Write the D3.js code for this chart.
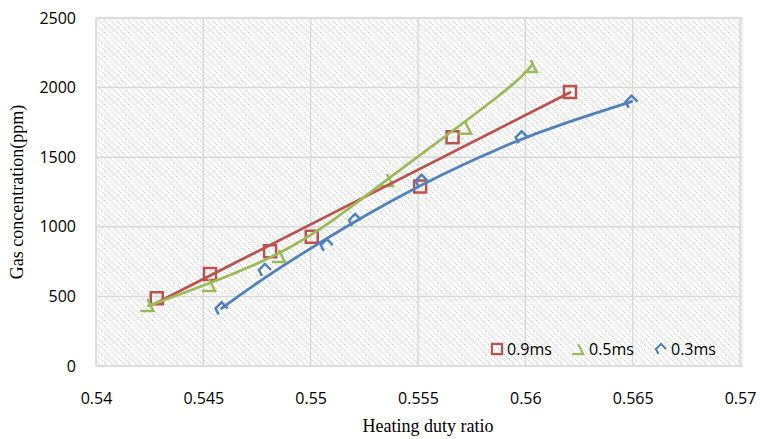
<!DOCTYPE html>
<html><head><meta charset="utf-8">
<script src="https://cdn.jsdelivr.net/npm/d3@7"></script>
<style>body{margin:0;background:#fff}svg{display:block}</style>
</head><body>
<svg id="c" width="760" height="439"></svg>
<script>
// ---- data ----
const seriesNames = ["0.9ms", "0.5ms", "0.3ms"];
const red_x = [0.54283, 0.54531, 0.54811, 0.55005, 0.55510, 0.55661, 0.56208];
const red_y = [486, 661, 825, 929, 1290, 1643, 1968];
const green_x = [0.54244, 0.54531, 0.54857, 0.55360, 0.55724, 0.56030];
const green_y = [438, 582, 790, 1336, 1712, 2155];
const blue_x = [0.54585, 0.54787, 0.55075, 0.55207, 0.55517, 0.55983, 0.56495];
const blue_y = [414, 690, 869, 1049, 1330, 1643, 1899];
// trendlines
const redTrend_x = [0.54283, 0.56208];
const redTrend_y = [455, 1965];
const greenTrend_x = [0.54244, 0.54857, 0.55323, 0.55851, 0.56030];
const greenTrend_y = [432, 815, 1300, 1911, 2160];
const blueTrend_x = [0.54585, 0.54857, 0.55385, 0.55882, 0.56200, 0.56495];
const blueTrend_y = [414, 705, 1193, 1565, 1752, 1900];
const xTicks = [0.54, 0.545, 0.55, 0.555, 0.56, 0.565, 0.57];
const yTicks = [0, 500, 1000, 1500, 2000, 2500];
const colors = ["#C0504D", "#9BBB59", "#4F81BD"];

const svg = d3.select("#c");
const L = 96, R = 740, T = 18, B = 366;
const x = d3.scaleLinear().domain([0.54, 0.57]).range([L, R]);
const y = d3.scaleLinear().domain([0, 2500]).range([B, T]);

// hatch pattern
const defs = svg.append("defs");
const pat = defs.append("pattern").attr("id", "hatch").attr("patternUnits", "userSpaceOnUse")
  .attr("width", 6).attr("height", 6);
pat.append("path").attr("d", "M0,0 L6,6 M-3,3 L3,9 M3,-3 L9,3")
  .attr("stroke", "#d2d2d2").attr("stroke-width", 1.1).attr("stroke-dasharray", "1.5,1");

svg.append("rect").attr("x", L).attr("y", T).attr("width", R - L + 2).attr("height", B - T)
  .attr("fill", "url(#hatch)").attr("stroke", "#e0e0e0").attr("stroke-width", 1);

// gridlines
svg.append("g").selectAll("line").data(yTicks).join("line")
  .attr("x1", L).attr("x2", R + 2).attr("y1", d => y(d)).attr("y2", d => y(d))
  .attr("stroke", "#d9d9d9").attr("stroke-width", 1.5);
svg.append("g").selectAll("line").data(xTicks).join("line")
  .attr("y1", T).attr("y2", B).attr("x1", d => x(d)).attr("x2", d => x(d))
  .attr("stroke", "#d9d9d9").attr("stroke-width", 1.5);

// axes (labels only)
const xAxis = svg.append("g").attr("transform", `translate(0,${B})`)
  .call(d3.axisBottom(x).tickValues(xTicks).tickFormat(d => String(+d.toFixed(3))).tickSize(0).tickPadding(27));
const yAxis = svg.append("g").attr("transform", `translate(${L},0)`)
  .call(d3.axisLeft(y).tickValues(yTicks).tickFormat(d3.format("d")).tickSize(0).tickPadding(20));
[xAxis, yAxis].forEach(a => {
  a.select(".domain").remove();
  a.selectAll("text").attr("font-family", "'Open Sans', sans-serif").attr("font-size", 16).attr("fill", "#000");
});

// titles
svg.append("text").attr("x", 428).attr("y", 432).attr("text-anchor", "middle")
  .attr("font-family", "'Liberation Serif', 'Times New Roman', serif").attr("font-size", 18)
  .text("Heating duty ratio");
svg.append("text").attr("transform", "translate(23,192) rotate(-90)").attr("text-anchor", "middle")
  .attr("font-family", "'Liberation Serif', 'Times New Roman', serif").attr("font-size", 18)
  .text("Gas concentration(ppm)");

// series
const series = [
  {name: seriesNames[0], xs: red_x, ys: red_y, tx: redTrend_x, ty: redTrend_y, c: colors[0], m: "sq"},
  {name: seriesNames[1], xs: green_x, ys: green_y, tx: greenTrend_x, ty: greenTrend_y, c: colors[1], m: "tri"},
  {name: seriesNames[2], xs: blue_x, ys: blue_y, tx: blueTrend_x, ty: blueTrend_y, c: colors[2], m: "dia"}
];
const markerPath = {
  sq: "M-6,-6 L6,-6 L6,6 L-6,6 Z",
  tri: "M-1,-6 L5,6 L-8,6",
  dia: "M-3,6 L-6,0 L0,-6 L6,0"
};
const line = d3.line().x(d => x(d[0])).y(d => y(d[1])).curve(d3.curveNatural);

series.forEach(s => {
  const pts = s.xs.map((v, i) => [v, s.ys[i]]);
  svg.append("g").selectAll("path").data(pts).join("path")
    .attr("transform", d => `translate(${x(d[0])},${y(d[1])})`)
    .attr("d", markerPath[s.m]).attr("fill", "none").attr("stroke", s.c).attr("stroke-width", 2.5);
});
series.forEach(s => {
  const tp = s.tx.map((v, i) => [v, s.ty[i]]);
  svg.append("path").datum(tp).attr("d", line).attr("fill", "none")
    .attr("stroke", s.c).attr("stroke-width", 2.75).attr("stroke-linecap", "round");
});

// legend
const legX = [497, 579, 661];
const lg = svg.append("g").selectAll("g").data(series).join("g")
  .attr("transform", (d, i) => `translate(${legX[i]},349)`);
lg.append("path").attr("d", d => markerPath[d.m]).attr("transform", "scale(0.85)")
  .attr("fill", "none").attr("stroke", d => d.c).attr("stroke-width", 2.5);
lg.append("text").attr("x", 10).attr("y", 6).attr("font-family", "'Open Sans', sans-serif")
  .attr("font-size", 16).attr("fill", "#000").text(d => d.name);
</script>
</body></html>
